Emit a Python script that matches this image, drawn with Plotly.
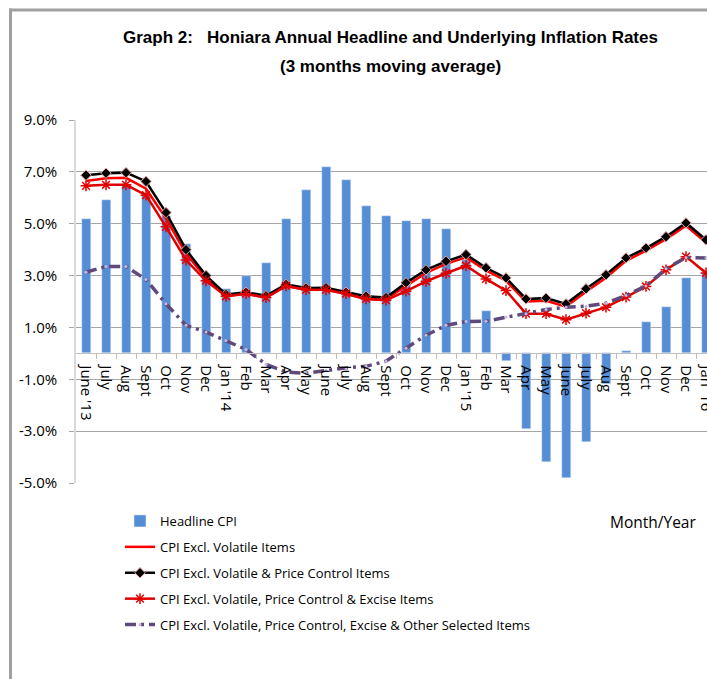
import plotly.graph_objects as go

months = ["June '13", "July", "Aug", "Sept", "Oct", "Nov", "Dec", "Jan '14", "Feb", "Mar",
          "Apr", "May", "June", "July", "Aug", "Sept", "Oct", "Nov", "Dec", "Jan '15",
          "Feb", "Mar", "Apr", "May", "June", "July", "Aug", "Sept", "Oct", "Nov", "Dec", "Jan '16"]

headline = [5.2, 5.9, 6.5, 6.1, 5.3, 4.2, 2.9, 2.5, 3.0, 3.5, 5.2, 6.3, 7.2, 6.7, 5.7, 5.3,
            5.1, 5.2, 4.8, 3.6, 1.65, -0.3, -2.9, -4.2, -4.8, -3.4, -1.2, 0.1, 1.2, 1.8, 2.9, 3.1]

excl_volatile = [6.65, 6.75, 6.77, 6.35, 5.2, 3.85, 2.9, 2.2, 2.3, 2.15, 2.6, 2.45, 2.45, 2.3, 2.1, 2.1,
                 2.6, 3.1, 3.45, 3.7, 3.2, 2.8, 2.0, 2.03, 1.8, 2.38, 2.92, 3.57, 3.96, 4.4, 4.92, 4.27]

excl_vol_pc = [6.87, 6.95, 6.97, 6.63, 5.43, 4.0, 3.0, 2.27, 2.36, 2.22, 2.66, 2.52, 2.53, 2.36, 2.2, 2.15,
               2.72, 3.22, 3.55, 3.81, 3.3, 2.91, 2.1, 2.13, 1.91, 2.49, 3.03, 3.68, 4.06, 4.5, 5.03, 4.38]

excl_vol_pc_excise = [6.46, 6.5, 6.5, 6.1, 4.88, 3.6, 2.8, 2.2, 2.3, 2.15, 2.6, 2.45, 2.45, 2.3, 2.1, 2.05,
                      2.4, 2.78, 3.09, 3.38, 2.87, 2.42, 1.53, 1.53, 1.3, 1.55, 1.78, 2.17, 2.58, 3.22, 3.73, 3.1]

excl_all_selected = [3.13, 3.35, 3.35, 2.85, 1.91, 1.08, 0.82, 0.5, 0.15, -0.42, -0.72, -0.77, -0.65, -0.56, -0.5, -0.3,
                     0.2, 0.7, 1.08, 1.23, 1.24, 1.4, 1.53, 1.69, 1.78, 1.82, 1.93, 2.23, 2.6, 3.26, 3.7, 3.68]

y_ticks = [9, 7, 5, 3, 1, -1, -3, -5]
y_labels = ["9.0%", "7.0%", "5.0%", "3.0%", "1.0%", "-1.0%", "-3.0%", "-5.0%"]

x = list(range(len(months)))
FONT = "Open Sans"

# page margin is removed, so figure pixels are screen pixels
W, H = 707, 679
L, T, B = 76, 120, 196
PW, PH = W - L, H - T - B


def px(sx):
    return (sx - L) / PW


def py(sy):
    return (H - B - sy) / PH


fig = go.Figure()
fig.add_trace(go.Bar(x=x, y=headline, name="Headline CPI", marker_color="#558ED5",
                     width=0.45, legendgroup="a"))
fig.add_trace(go.Scatter(x=x, y=excl_volatile, name="CPI Excl. Volatile Items", mode="lines",
                         line=dict(color="#FF0000", width=2.5), legendgroup="b"))
fig.add_trace(go.Scatter(x=x, y=excl_vol_pc, name="CPI Excl. Volatile & Price Control Items",
                         mode="lines+markers", line=dict(color="#000000", width=2.5),
                         marker=dict(symbol="diamond", size=8, color="#000000",
                                     line=dict(color="#E6A0A0", width=1)), legendgroup="c"))
fig.add_trace(go.Scatter(x=x, y=excl_vol_pc_excise, name="CPI Excl. Volatile, Price Control & Excise Items",
                         mode="lines+markers", line=dict(color="#E00000", width=2.5),
                         marker=dict(symbol="asterisk-open", size=9,
                                     line=dict(color="#000000", width=1.5)), legendgroup="d"))
fig.add_trace(go.Scatter(x=x, y=excl_all_selected,
                         name="CPI Excl. Volatile, Price Control, Excise & Other Selected Items",
                         mode="lines+markers", line=dict(color="#604A7B", width=3.5, dash="11px,5px,3px,5px"),
                         marker=dict(symbol="circle", size=3, color="#C9B8DC"), legendgroup="e"))

fig.update_layout(
    width=W, height=H,
    margin=dict(l=L, r=0, t=T, b=B, pad=0, autoexpand=False),
    paper_bgcolor="white", plot_bgcolor="white",
    font=dict(family=FONT, color="#000000"),
    showlegend=True,
    legend=dict(xref="container", yref="container", x=120 / W, y=1 - 506 / H,
                xanchor="left", yanchor="top", font=dict(family=FONT, size=13, color="#000000"),
                tracegroupgap=6, bgcolor="rgba(0,0,0,0)", itemwidth=30),
    bargap=0,
    xaxis=dict(range=[-0.5, 31.05], tickmode="array", tickvals=x, ticktext=months, tickangle=90,
               ticks="", showgrid=False, showline=True, linecolor="#BFBFBF", linewidth=1,
               anchor="free", position=5 / 14, zeroline=False, ticklabelstandoff=8,
               ticklabeloverflow="allow",
               tickfont=dict(family=FONT, size=15, color="#000000"),
               minor=dict(tickvals=[i + 0.5 for i in x], ticks="outside", ticklen=5,
                          tickcolor="#BFBFBF", showgrid=False)),
    yaxis=dict(range=[-5, 9], tickmode="array", tickvals=y_ticks, ticktext=y_labels,
               showgrid=True, gridcolor="#A6A6A6", gridwidth=1, zeroline=False,
               showline=True, linecolor="#D9D9D9", linewidth=1.5, ticks="outside", ticklen=5,
               tickcolor="#A6A6A6", ticklabelstandoff=9,
               tickfont=dict(family=FONT, size=15, color="#000000")),
    annotations=[
        dict(text="<b>Graph 2:   Honiara Annual Headline and Underlying Inflation Rates</b>",
             xref="paper", yref="paper", x=px(390), y=py(37), xanchor="center", yanchor="middle",
             showarrow=False, font=dict(family="Liberation Sans", size=17, color="#000000")),
        dict(text="<b>(3 months moving average)</b>",
             xref="paper", yref="paper", x=px(390), y=py(66), xanchor="center", yanchor="middle",
             showarrow=False, font=dict(family="Liberation Sans", size=17, color="#000000")),
        dict(text="Month/Year", xref="paper", yref="paper", x=px(653), y=py(522),
             xanchor="center", yanchor="middle", showarrow=False,
             font=dict(family=FONT, size=15.5, color="#000000")),
    ],
    shapes=[dict(type="line", xref="paper", yref="paper", x0=px(10.5), x1=px(10.5),
                 y0=py(700), y1=py(8.5), line=dict(color="#A0A0A0", width=3)),
            dict(type="line", xref="paper", yref="paper", x0=px(9), x1=px(760),
                 y0=py(10), y1=py(10), line=dict(color="#A0A0A0", width=3))],
)

fig.write_html("out.html", config={"displayModeBar": False},
               post_script="document.body.style.margin='0';document.body.style.overflow='hidden';")
